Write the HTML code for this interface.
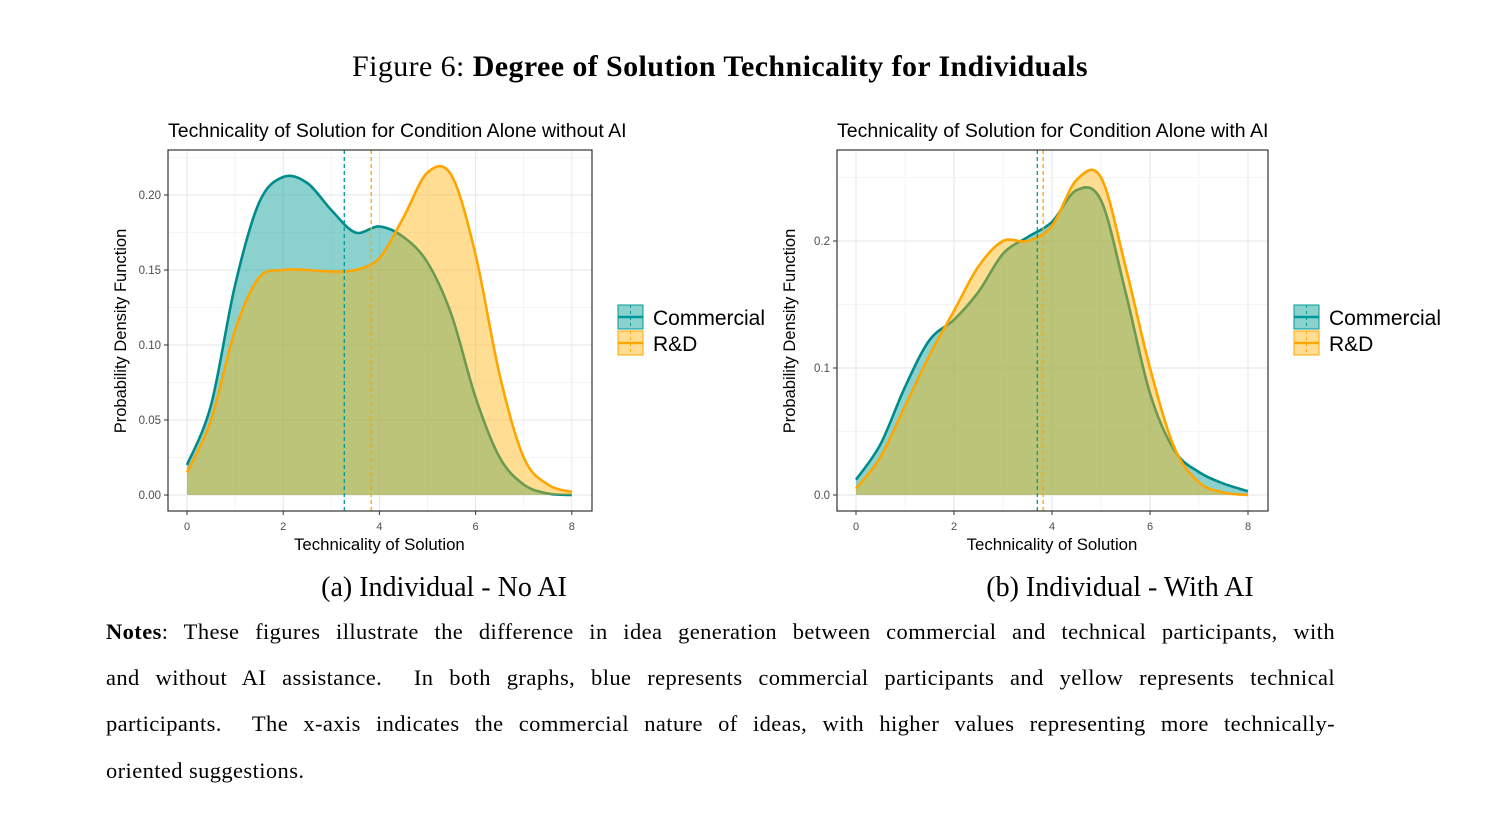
<!DOCTYPE html>
<html><head><meta charset="utf-8">
<style>
body{margin:0;width:1498px;height:830px;background:#fff;overflow:hidden;position:relative;font-family:"Liberation Serif",serif;}
.t{position:absolute;white-space:nowrap;color:#000;}
.note{position:absolute;left:106px;width:1229px;font-size:22.5px;letter-spacing:0.4px;text-align:justify;text-align-last:justify;white-space:nowrap;}
svg{position:absolute;left:0;top:0;}
</style></head><body>
<div class="t" style="left:0;width:1440px;text-align:center;top:50px;font-size:30px;letter-spacing:0.4px;">Figure 6: <b>Degree of Solution Technicality for Individuals</b></div>
<div class="t" style="left:244px;width:400px;text-align:center;top:572px;font-size:28px;">(a) Individual - No AI</div>
<div class="t" style="left:920px;width:400px;text-align:center;top:572px;font-size:28px;">(b) Individual - With AI</div>
<div class="note" style="top:619px;"><b>Notes</b>: These figures illustrate the difference in idea generation between commercial and technical participants, with</div>
<div class="note" style="top:665px;">and without AI assistance.&nbsp; In both graphs, blue represents commercial participants and yellow represents technical</div>
<div class="note" style="top:711px;">participants.&nbsp; The x-axis indicates the commercial nature of ideas, with higher values representing more technically-</div>
<div class="note" style="top:758px;text-align-last:left;">oriented suggestions.</div>
<svg id="svg" width="1498" height="830"></svg>
<script>
const xs=[0,0.5,1,1.5,2,2.5,3,3.5,4,4.5,5,5.5,6,6.5,7,7.5,8];
const xTicks=[0,2,4,6,8];
const leftCommercial=[0.02,0.06,0.14,0.195,0.212,0.208,0.19,0.175,0.179,0.172,0.155,0.12,0.065,0.025,0.007,0.001,0.0];
const leftRD=[0.015,0.05,0.11,0.145,0.15,0.15,0.149,0.15,0.158,0.185,0.215,0.213,0.16,0.08,0.025,0.007,0.002];
const leftMeans=[3.27,3.83];
const leftYTicks=[0,0.05,0.10,0.15,0.20];
const leftYLabels=["0.00","0.05","0.10","0.15","0.20"];
const rightCommercial=[0.012,0.04,0.085,0.122,0.138,0.16,0.19,0.203,0.215,0.24,0.232,0.16,0.08,0.035,0.018,0.009,0.003];
const rightRD=[0.005,0.03,0.07,0.11,0.145,0.18,0.2,0.2,0.212,0.248,0.25,0.18,0.1,0.037,0.01,0.002,0.0];
const rightMeans=[3.7,3.82];
const rightYTicks=[0,0.1,0.2];
const rightYLabels=["0.0","0.1","0.2"];
const NS='http://www.w3.org/2000/svg';
const svg=document.getElementById('svg');
function mk(tag,attrs,parent){const e=document.createElementNS(NS,tag);for(const k in attrs)e.setAttribute(k,attrs[k]);(parent||svg).appendChild(e);return e;}
function smooth(pts){let d='M'+pts[0][0]+','+pts[0][1];for(let i=0;i<pts.length-1;i++){const p0=pts[Math.max(0,i-1)],p1=pts[i],p2=pts[i+1],p3=pts[Math.min(pts.length-1,i+2)];
d+=' C'+(p1[0]+(p2[0]-p0[0])/6)+','+(p1[1]+(p2[1]-p0[1])/6)+' '+(p2[0]-(p3[0]-p1[0])/6)+','+(p2[1]-(p3[1]-p1[1])/6)+' '+p2[0]+','+p2[1];}return d;}
function panel(cfg){
 const g=mk('g',{});
 
 
 const X=v=>cfg.x0+v*cfg.xs, Y=v=>cfg.y0-v*cfg.ys;
 mk('rect',{x:cfg.bx,y:150,width:cfg.bw,height:361,fill:'#fff'},g);
 for(let v=1;v<8;v+=2)mk('line',{x1:X(v),x2:X(v),y1:150,y2:511,stroke:'#f2f2f2','stroke-width':0.8},g);
 for(let i=0;i<cfg.yt.length;i++){const v=cfg.yt[i]+(cfg.yt[1]-cfg.yt[0])/2;if(Y(v)>150)mk('line',{x1:cfg.bx,x2:cfg.bx+cfg.bw,y1:Y(v),y2:Y(v),stroke:'#f2f2f2','stroke-width':0.8},g);}
 xTicks.forEach(v=>{mk('line',{x1:X(v),x2:X(v),y1:150,y2:511,stroke:'#e6e6e6','stroke-width':1},g);
  const t=mk('text',{x:X(v),y:530,'font-size':11,fill:'#4d4d4d','text-anchor':'middle','font-family':'Liberation Sans'},g);t.textContent=v;
  mk('line',{x1:X(v),x2:X(v),y1:511,y2:515,stroke:'#333'},g);});
 cfg.yt.forEach((v,i)=>{mk('line',{x1:cfg.bx,x2:cfg.bx+cfg.bw,y1:Y(v),y2:Y(v),stroke:'#e6e6e6','stroke-width':1},g);
  mk('line',{x1:cfg.bx-4,x2:cfg.bx,y1:Y(v),y2:Y(v),stroke:'#333'},g);
  const t=mk('text',{x:cfg.bx-7,y:Y(v)+4,'font-size':11.5,fill:'#4d4d4d','text-anchor':'end','font-family':'Liberation Sans'},g);t.textContent=cfg.yl[i];});
 const series=[[cfg.c,'rgba(23,165,160,0.5)','#008b8b','commercial'],[cfg.r,'rgba(255,176,0,0.42)','#ffa500','rd']];
 series.forEach(s=>{const pts=xs.map((x,i)=>[X(x),Y(s[0][i])]);const line=smooth(pts);
  const a=mk('path',{d:line+' L'+X(8)+','+Y(0)+' L'+X(0)+','+Y(0)+' Z',fill:s[1]},g);
  
  
  const l=mk('path',{d:line,fill:'none',stroke:s[2],'stroke-width':2.6},g);
  
  });
 cfg.m.forEach((v,i)=>{const l=mk('line',{x1:X(v),x2:X(v),y1:150,y2:511,stroke:i?'#ffa500':'#009999','stroke-width':1.3,'stroke-dasharray':'4,3'},g);
  
  });
 mk('rect',{x:cfg.bx,y:150,width:cfg.bw,height:361,fill:'none',stroke:'#333','stroke-width':1.2},g);
 const tt=mk('text',{x:cfg.bx,y:137,'font-size':19.5,fill:'#000','text-anchor':'start','font-family':'Liberation Sans'},g);tt.textContent=cfg.title;
 
 const xt=mk('text',{x:X(4),y:550,'font-size':16.8,fill:'#000','text-anchor':'middle','font-family':'Liberation Sans'},g);xt.textContent='Technicality of Solution';
 
 const yt=mk('text',{x:0,y:0,'font-size':16.5,fill:'#000','text-anchor':'middle','font-family':'Liberation Sans',transform:'translate('+(cfg.bx-42)+',331) rotate(-90)'},g);yt.textContent='Probability Density Function';
 
 const lx=cfg.lx;
 [['Commercial','rgba(23,165,160,0.5)','#009999',305],['R&D','rgba(255,176,0,0.42)','#ffa500',331]].forEach(e=>{
  const lg=mk('g',{},g);
  mk('rect',{x:lx,y:e[3],width:25,height:24,fill:e[1],stroke:e[2],'stroke-width':1},lg);
  mk('line',{x1:lx,x2:lx+25,y1:e[3]+12,y2:e[3]+12,stroke:e[2],'stroke-width':2.5},lg);
  mk('line',{x1:lx+12.5,x2:lx+12.5,y1:e[3],y2:e[3]+24,stroke:e[2],'stroke-width':1,'stroke-dasharray':'3,3'},lg);
  const t=mk('text',{x:lx+35,y:e[3]+20,'font-size':21,fill:'#000','font-family':'Liberation Sans'},lg);t.textContent=e[0];});
}
panel({name:'panel-no-ai',bx:168,bw:424,x0:187,xs:48.1,y0:495,ys:1500,yt:leftYTicks,yl:leftYLabels,c:leftCommercial,r:leftRD,m:leftMeans,lx:618,title:'Technicality of Solution for Condition Alone without AI'});
panel({name:'panel-with-ai',bx:837,bw:431,x0:856,xs:49,y0:495,ys:1270,yt:rightYTicks,yl:rightYLabels,c:rightCommercial,r:rightRD,m:rightMeans,lx:1294,title:'Technicality of Solution for Condition Alone with AI'});
</script>
</body></html>
